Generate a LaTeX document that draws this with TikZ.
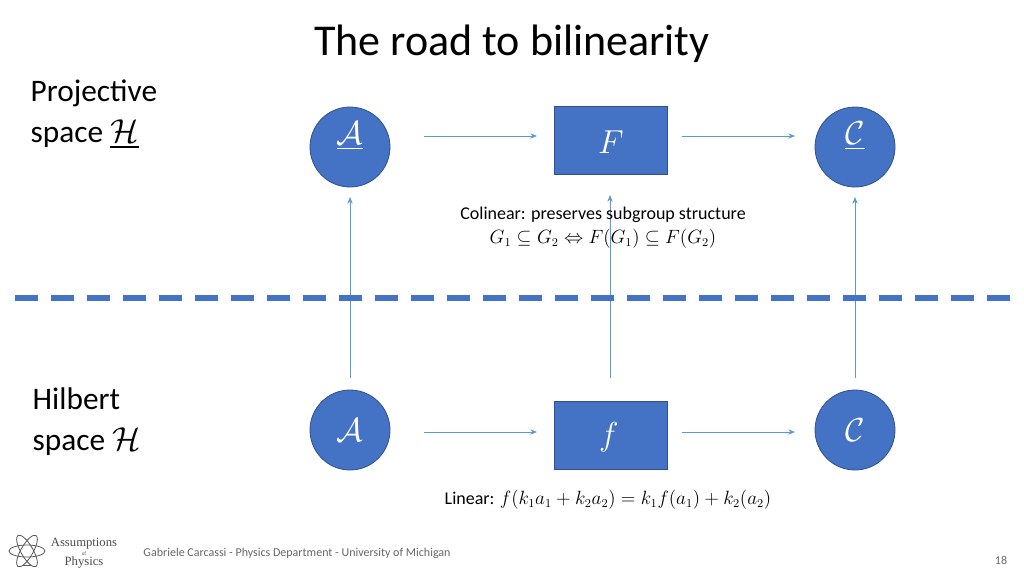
\documentclass[tikz,border=0pt]{standalone}
\usepackage{amsmath,amssymb}
\usepackage{fontspec}
\setmainfont{Carlito}
\newfontfamily\logofont{Liberation Serif}
\usetikzlibrary{arrows.meta}
\definecolor{bfill}{HTML}{4472C4}
\definecolor{bdraw}{HTML}{2F528F}
\definecolor{arr}{HTML}{5B9BD5}
\begin{document}
\begin{tikzpicture}[x=0.75pt,y=-0.75pt,
  circ/.style={circle,fill=bfill,draw=bdraw,line width=0.6pt,minimum size=60pt,inner sep=0pt},
  rbox/.style={rectangle,fill=bfill,draw=bdraw,line width=0.6pt,minimum width=85pt,minimum height=51pt,inner sep=0pt},
  lbl/.style={text=white,font=\fontsize{23}{25}\selectfont},
  con/.style={draw=arr,line width=0.6pt,-{Stealth[length=5pt,width=4pt]}},
  side/.style={font=\fontsize{23.5}{31}\selectfont,align=left,anchor=north west}]
\useasboundingbox (0,0) rectangle (1024,576);
\node[font=\fontsize{33}{36}\selectfont] (title) at (512,44) {The road to bilinearity};
\node[side] (proj) at (26,75) {Projective\\space $\underline{\mathcal{H}}$};
\node[side] (hilb) at (28,383) {Hilbert\\space $\mathcal{H}$};
% top row
\node[circ] (A1) at (350,147) {};
\node[rbox] (F) at (611,140) {};
\node[circ] (C1) at (855,147) {};
\node[lbl] at (350,136) {$\underline{\mathcal{A}}$};
\node[lbl] at (611,142) {$F$};
\node[lbl] at (855,136) {$\underline{\mathcal{C}}$};
% bottom row
\node[circ] (A2) at (350,430) {};
\node[rbox] (f) at (611,435) {};
\node[circ] (C2) at (855,430) {};
\node[lbl] at (350,430) {$\mathcal{A}$};
\node[lbl] at (609,437) {$f$};
\node[lbl] at (855,430) {$\mathcal{C}$};
% horizontal arrows
\coordinate (h1s) at (424,136); \coordinate (h1e) at (537,136);
\coordinate (h2s) at (682,136); \coordinate (h2e) at (795,136);
\coordinate (h3s) at (424,432); \coordinate (h3e) at (537,432);
\coordinate (h4s) at (682,432); \coordinate (h4e) at (795,432);
\draw[con] (h1s) -- (h1e);
\draw[con] (h2s) -- (h2e);
\draw[con] (h3s) -- (h3e);
\draw[con] (h4s) -- (h4e);
% vertical arrows
\coordinate (v1s) at (350,378); \coordinate (v1e) at (350,197);
\coordinate (v2s) at (610,378); \coordinate (v2e) at (610,195);
\coordinate (v3s) at (855,378); \coordinate (v3e) at (855,197);
\draw[con] (v1s) -- (v1e);
\draw[con] (v2s) -- (v2e);
\draw[con] (v3s) -- (v3e);
% dashed separator
\coordinate (d1) at (15,298); \coordinate (d2) at (1012,298);
\draw[bfill,line width=3.8pt,dash pattern=on 17pt off 10pt] (d1) -- (d2);
% texts
\node[font=\fontsize{13.5}{18}\selectfont,align=center] (col) at (603,228)
 {Colinear: preserves subgroup structure\\ $G_1 \subseteq G_2 \Leftrightarrow F(G_1)\subseteq F(G_2)$};
\node[font=\fontsize{13.5}{15}\selectfont] (lin) at (608,500)
 {Linear: $f(k_1a_1+k_2a_2)=k_1f(a_1)+k_2(a_2)$};
\node[font=\fontsize{9}{10}\selectfont,text=black!60] (foot) at (297,553) {Gabriele Carcassi - Physics Department - University of Michigan};
\node[font=\fontsize{9}{10}\selectfont,text=black!60] (pg) at (1001,560) {18};
% logo
\begin{scope}[shift={(27,551)},draw=black!65,line width=0.6pt]
\draw (0,0) ellipse (18 and 6);
\draw[rotate=60] (0,0) ellipse (18 and 6);
\draw[rotate=-60] (0,0) ellipse (18 and 6);
\draw (-5,14) -- (5,14);
\end{scope}
\node[font=\fontsize{9.5}{10}\selectfont\logofont,text=black!70,align=center,inner sep=0pt] (logo) at (84,553)
 {Assumptions\\[-3pt]{\fontsize{4}{4}\selectfont of}\\[-3pt]Physics};
\end{tikzpicture}
\end{document}
